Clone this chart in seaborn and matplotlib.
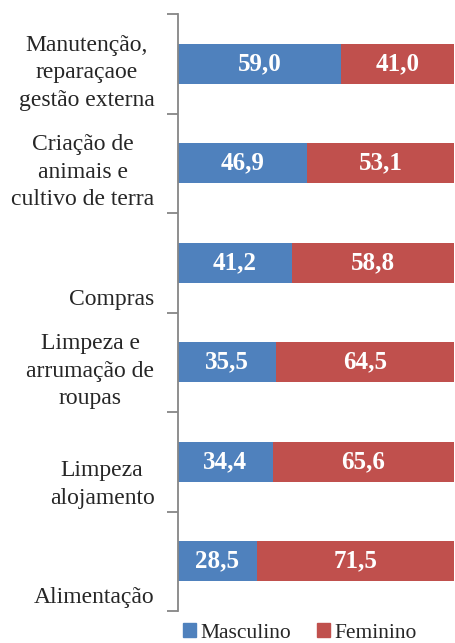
import pandas as pd
import matplotlib.pyplot as plt
import seaborn as sns
from matplotlib.patches import Patch

# data (percent)
categories = [
    "Manutenção,\nreparaçaoe\ngestão externa",
    "Criação de\nanimais e\ncultivo de terra",
    "Compras",
    "Limpeza e\narrumação de\nroupas",
    "Limpeza\nalojamento",
    "Alimentação",
]
masculino = [59.0, 46.9, 41.2, 35.5, 34.4, 28.5]
feminino = [41.0, 53.1, 58.8, 64.5, 65.6, 71.5]

BLUE = "#4F81BD"
RED = "#C0504D"
AXIS_GREY = "#868686"

df = pd.DataFrame({"cat": categories, "Masculino": masculino, "Feminino": feminino})
df["total"] = df["Masculino"] + df["Feminino"]

sns.set_style("white")
plt.rcParams["font.family"] = ["Liberation Serif", "DejaVu Serif"]

fig = plt.figure(figsize=(4.55, 6.43), dpi=100)
ax = fig.add_axes([178 / 455, 1 - 611 / 643, 276 / 455, (611 - 14) / 643])

# stacked: full bar in red, masculino part drawn over it in blue
sns.barplot(data=df, x="total", y="cat", color=RED, width=0.4, linewidth=0,
            saturation=1, ax=ax)
sns.barplot(data=df, x="Masculino", y="cat", color=BLUE, width=0.4, linewidth=0,
            saturation=1, ax=ax)

ax.set_xlim(0, 100)
ax.set_ylim(len(categories) - 0.5, -0.5)
ax.set_xlabel("")
ax.set_ylabel("")
ax.set_xticks([])

# tick marks at the category boundaries, no tick labels
ax.set_yticks([i - 0.5 for i in range(len(categories) + 1)])
ax.set_yticklabels([])
ax.tick_params(axis="y", left=True, length=8, width=1.3, color=AXIS_GREY,
               direction="out")

for side in ["top", "right", "bottom"]:
    ax.spines[side].set_visible(False)
ax.spines["left"].set_color(AXIS_GREY)
ax.spines["left"].set_linewidth(1.3)

# category labels, bottom aligned to each category's lower boundary
for i, lab in enumerate(categories):
    ax.annotate(lab, xy=(0, i + 0.5), xycoords=("axes fraction", "data"),
                xytext=(-17, 2), textcoords="offset points",
                ha="right", va="bottom", multialignment="center",
                fontsize=17, linespacing=1.4, annotation_clip=False)

# value labels
for i, (m, f) in enumerate(zip(masculino, feminino)):
    ax.text(m / 2, i, f"{m:.1f}".replace(".", ","), ha="center", va="center",
            color="white", fontsize=18, fontweight="bold")
    ax.text(m + f / 2, i, f"{f:.1f}".replace(".", ","), ha="center", va="center",
            color="white", fontsize=18, fontweight="bold")

handles = [Patch(color=BLUE, label="Masculino"), Patch(color=RED, label="Feminino")]
fig.legend(handles=handles, loc="center", bbox_to_anchor=(300 / 455, 1 - 633 / 643),
           ncol=2, frameon=False, fontsize=15.5, handlelength=0.6, handleheight=0.6,
           handletextpad=0.2, columnspacing=1.2, borderaxespad=0)

fig.savefig("out.png", dpi=100)
